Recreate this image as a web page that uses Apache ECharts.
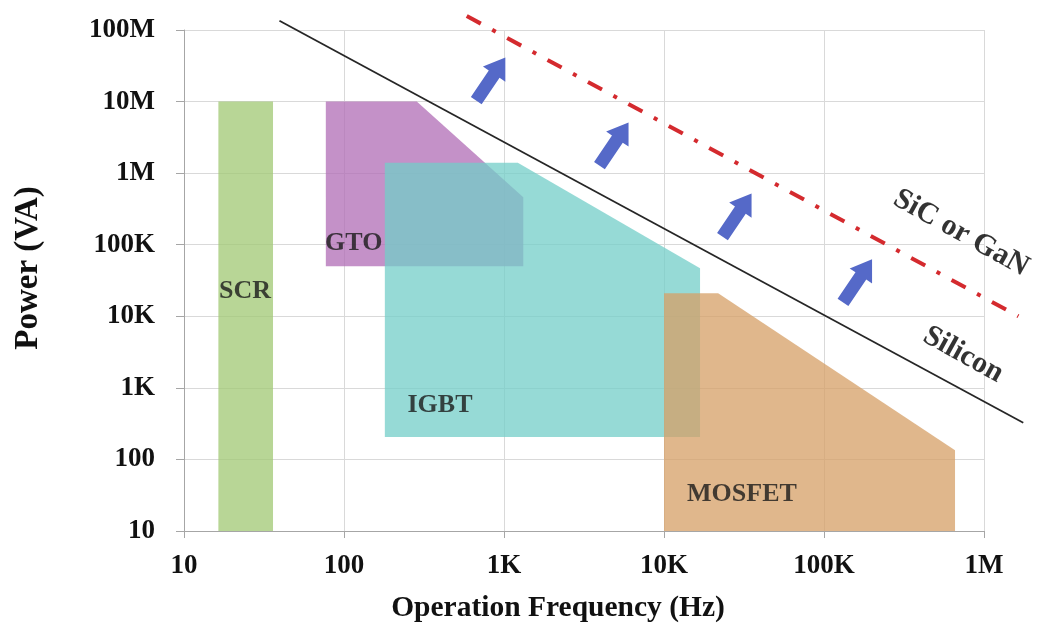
<!DOCTYPE html>
<html><head><meta charset="utf-8">
<script src="https://cdn.jsdelivr.net/npm/echarts@6/dist/echarts.min.js"></script>
<style>html,body{margin:0;padding:0;background:#fff}#c{width:1046px;height:630px}</style>
</head><body><div id="c"></div>
<script>
// Tick values / labels
const xTickValues = [10, 100, 1e3, 1e4, 1e5, 1e6];
const xTickLabels = ['10', '100', '1K', '10K', '100K', '1M'];
const yTickValues = [10, 100, 1e3, 1e4, 1e5, 1e6, 1e7, 1e8];
const yTickLabels = ['10', '100', '1K', '10K', '100K', '1M', '10M', '100M'];

// Device operating regions: [frequency Hz, power VA] vertices
const scrRegion = [[16.4, 10], [36, 10], [36, 1e7], [16.4, 1e7]];
const gtoRegion = [[77, 1e7], [285, 1e7], [1320, 4.6e5], [1320, 5e4], [77, 5e4]];
const igbtRegion = [[180, 1.4e6], [1220, 1.4e6], [16800, 4.7e4], [16800, 205], [180, 205]];
const mosfetRegion = [[1e4, 2.1e4], [21800, 2.1e4], [659000, 134], [659000, 10], [1e4, 10]];

// Limit lines
const siliconLimit = [[39.5, 1.35e8], [1.76e6, 326]];
const widebandLimit = [[585, 1.57e8], [1.64e6, 1e4]];

// Arrow centres
const arrowPoints = [[827, 2.06e7], [4870, 2.55e6], [28600, 2.59e5], [162000, 3.12e4]];

// Region labels
const regionNames = ['SCR', 'GTO', 'IGBT', 'MOSFET'];
const regionLabelFreq = [24.1, 115, 398, 30700];
const regionLabelPower = [22400, 1.05e5, 569, 32.4];

// Technology labels
const techNames = ['Silicon', 'SiC or GaN'];
const techLabelFreq = [740000, 718000];
const techLabelPower = [2900, 1.45e5];

const FONT = "'Liberation Serif', 'Times New Roman', serif";

function fmt(values, labels) {
  return v => {
    const i = values.findIndex(t => Math.abs(Math.log10(t) - Math.log10(v)) < 1e-6);
    return i >= 0 ? labels[i] : '';
  };
}

function regionSeries(points, fill) {
  return {
    type: 'custom', coordinateSystem: 'cartesian2d',
    data: points, encode: { x: 0, y: 1 }, silent: true, z: 2, clip: false,
    renderItem: (params, api) => {
      if (params.dataIndex !== 0) return null;
      return {
        type: 'polygon',
        shape: { points: points.map(p => api.coord(p)) },
        style: { fill: fill }
      };
    }
  };
}

function lineSeries(points, style) {
  return {
    type: 'custom', coordinateSystem: 'cartesian2d',
    data: points, encode: { x: 0, y: 1 }, silent: true, z: 4, clip: false,
    renderItem: (params, api) => {
      if (params.dataIndex !== 0) return null;
      return {
        type: 'polyline',
        shape: { points: points.map(p => api.coord(p)) },
        style: Object.assign({ fill: null }, style)
      };
    }
  };
}

const chart = echarts.init(document.getElementById('c'), null, { renderer: 'canvas' });
chart.setOption({
  animation: false,
  backgroundColor: '#ffffff',
  grid: { left: 184, right: 62, top: 30, bottom: 99 },
  xAxis: {
    type: 'log', logBase: 10, min: 10, max: 1e6, splitNumber: 5,
    axisLine: { show: true, lineStyle: { color: '#a6a6a6', width: 1 } },
    axisTick: { show: true, length: 7, lineStyle: { color: '#a6a6a6' } },
    minorTick: { show: false },
    splitLine: { show: true, lineStyle: { color: '#d9d9d9', width: 1 } },
    axisLabel: { formatter: fmt(xTickValues, xTickLabels), color: '#111', fontFamily: FONT, fontWeight: 'bold', fontSize: 27, margin: 22 }
  },
  yAxis: {
    type: 'log', logBase: 10, min: 10, max: 1e8, splitNumber: 7,
    axisLine: { show: true, lineStyle: { color: '#a6a6a6', width: 1 } },
    axisTick: { show: true, length: 8, lineStyle: { color: '#a6a6a6' } },
    minorTick: { show: false },
    splitLine: { show: true, lineStyle: { color: '#d9d9d9', width: 1 } },
    axisLabel: { formatter: fmt(yTickValues, yTickLabels), color: '#111', fontFamily: FONT, fontWeight: 'bold', fontSize: 27, margin: 29, padding: [10, 0, 0, 0] }
  },
  graphic: [
    { type: 'text', x: 558, y: 608, style: { text: 'Operation Frequency (Hz)', font: "bold 29.5px " + FONT, fill: '#111', textAlign: 'center', textVerticalAlign: 'middle' } },
    { type: 'text', x: 28, y: 268, rotation: Math.PI / 2, style: { text: 'Power (VA)', font: "bold 33px " + FONT, fill: '#111', textAlign: 'center', textVerticalAlign: 'middle' } }
  ],
  series: [
    regionSeries(scrRegion, 'rgba(160,200,115,0.75)'),
    regionSeries(gtoRegion, 'rgba(176,108,182,0.75)'),
    regionSeries(igbtRegion, 'rgba(115,206,200,0.75)'),
    regionSeries(mosfetRegion, 'rgba(214,159,102,0.75)'),
    lineSeries(siliconLimit, { stroke: '#262626', lineWidth: 1.8 }),
    lineSeries(widebandLimit, { stroke: '#d42a2e', lineWidth: 4, lineDash: [16, 13, 4, 13] }),
    {
      type: 'scatter', data: arrowPoints, z: 5, silent: true, clip: false,
      symbol: 'path://M7,52 L20,52 L20,20 L27,20 L13.5,0 L0,20 L7,20 Z',
      symbolSize: [27, 52], symbolRotate: -34, symbolKeepAspect: false,
      itemStyle: { color: '#5569c8', opacity: 1 }
    },
    {
      type: 'scatter', z: 6, silent: true, clip: false, symbolSize: 0,
      data: regionNames.map((n, i) => ({ name: n, value: [regionLabelFreq[i], regionLabelPower[i]] })),
      label: { show: true, position: 'inside', formatter: '{b}', color: '#1a1a1a', fontFamily: FONT, fontWeight: 'bold', fontSize: 26 }
    },
    {
      type: 'scatter', z: 6, silent: true, clip: false, symbolSize: 0,
      data: techNames.map((n, i) => ({ name: n, value: [techLabelFreq[i], techLabelPower[i]] })),
      label: { show: true, position: 'inside', formatter: '{b}', rotate: -29, color: '#000', fontFamily: FONT, fontWeight: 'bold', fontSize: 30 }
    }
  ]
});
</script></body></html>
